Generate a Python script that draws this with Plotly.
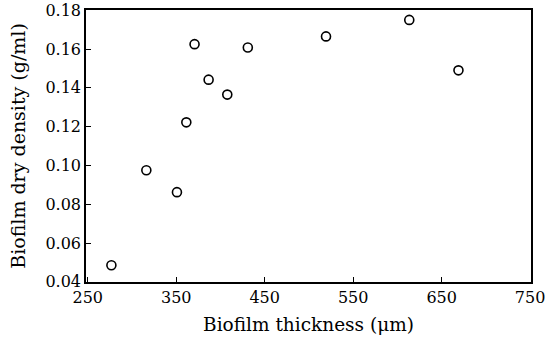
import plotly.graph_objects as go

thickness = [276.7, 316.2, 350.8, 361.4, 370.7, 386.6, 407.7, 430.9, 519.3, 613.4, 669.0]
density = [0.0485, 0.0975, 0.0862, 0.1222, 0.1625, 0.1442, 0.1365, 0.1608, 0.1665, 0.1750, 0.1490]

x_ticks = [250, 350, 450, 550, 650, 750]
y_ticks = [0.04, 0.06, 0.08, 0.10, 0.12, 0.14, 0.16, 0.18]

font = dict(family="DejaVu Serif, serif", size=16, color="black")

fig = go.Figure(go.Scatter(
    x=thickness, y=density, mode="markers",
    marker=dict(symbol="circle-open", size=9, color="black", line=dict(width=1.6)),
))

fig.update_layout(
    width=545, height=340,
    margin=dict(l=86, r=14, t=10, b=58, autoexpand=False),
    plot_bgcolor="white", paper_bgcolor="white",
    font=font, showlegend=False,
)
fig.update_xaxes(
    range=[248, 751], tickvals=x_ticks, ticktext=[str(v) for v in x_ticks],
    ticks="inside", ticklen=5, tickwidth=1.2, tickcolor="black",
    showline=True, linecolor="black", linewidth=1.5, mirror=True,
    showgrid=False, zeroline=False, automargin=False,
    ticklabeloverflow="allow",
    title=dict(text="Biofilm thickness (μm)", standoff=12, font=dict(size=18.5)),
    tickfont=dict(size=16),
)
fig.update_yaxes(
    range=[0.0399, 0.1801], tickvals=y_ticks, ticktext=["%.2f" % v for v in y_ticks],
    ticks="inside", ticklen=5, tickwidth=1.2, tickcolor="black",
    showline=True, linecolor="black", linewidth=1.5, mirror=True,
    showgrid=False, zeroline=False, automargin=False,
    ticklabeloverflow="allow",
    title=dict(text="Biofilm dry density (g/ml)", standoff=15, font=dict(size=19)),
    tickfont=dict(size=16),
)

fig.write_html("out.html")
